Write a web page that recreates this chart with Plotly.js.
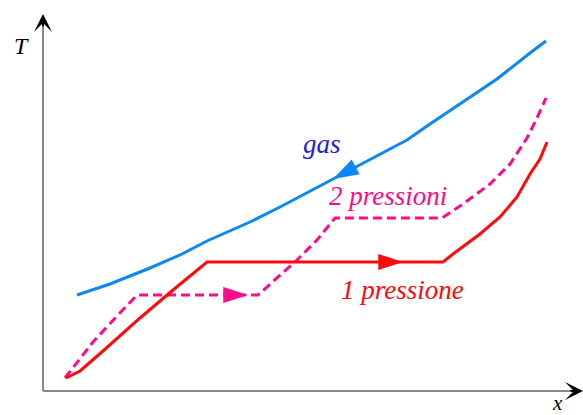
<!DOCTYPE html>
<html>
<head>
<meta charset="utf-8">
<script src="https://cdn.plot.ly/plotly-3.0.1.min.js"></script>
<style>html,body{margin:0;padding:0;background:#fff;}#chart{width:583px;height:415px;}</style>
</head>
<body>
<div id="chart"></div>
<script>
// Schematic values (x, T); origin at the axes corner
var gasX = [34, 67, 107, 137, 164, 207, 237, 290, 327, 364, 387, 420, 454, 487, 503];
var gasT = [96, 107, 123, 136, 150, 169, 184, 212, 231, 251, 267, 289, 312, 338, 350];

var p1X = [23, 37, 60, 97, 130, 150, 164, 400, 410, 437, 457, 474, 487, 497, 504];
var p1T = [13, 20, 40, 73, 101, 118, 129, 129, 137, 157, 174, 194, 217, 232, 249];

var p2X = [22, 30, 50, 74, 94, 215, 227, 254, 274, 292, 399, 420, 447, 467, 484, 494, 503];
var p2T = [13, 23, 49, 75, 96, 96, 107, 131, 151, 173, 173, 187, 207, 227, 253, 273, 293];

// arrowheads: position (tip) and direction angle (degrees clockwise from up)
var arrowGas = {x: [290], t: [212], angle: 242};
var arrowP1 = {x: [360], t: [129], angle: 90};
var arrowP2 = {x: [205], t: [96], angle: 90};

var labels = ['gas', '2 pressioni', '1 pressione'];
var labelX = [279, 345, 359];
var labelT = [247, 195, 101];

var cBlue = '#0a88f5', cRed = '#ff0a0a', cPink = '#ff0a8c';

var traces = [
  {x: gasX, y: gasT, mode: 'lines', line: {color: cBlue, width: 3}, hoverinfo: 'skip'},
  {x: p2X, y: p2T, mode: 'lines', line: {color: cPink, width: 3, dash: '9px,5px'}, hoverinfo: 'skip'},
  {x: p1X, y: p1T, mode: 'lines', line: {color: cRed, width: 3}, hoverinfo: 'skip'},
  {x: arrowGas.x, y: arrowGas.t, mode: 'markers', marker: {symbol: 'arrow', size: 27, angle: arrowGas.angle, color: cBlue, line: {width: 0}}, hoverinfo: 'skip'},
  {x: arrowP1.x, y: arrowP1.t, mode: 'markers', marker: {symbol: 'arrow', size: 26, angle: arrowP1.angle, color: cRed, line: {width: 0}}, hoverinfo: 'skip'},
  {x: arrowP2.x, y: arrowP2.t, mode: 'markers', marker: {symbol: 'arrow', size: 26, angle: arrowP2.angle, color: cPink, line: {width: 0}}, hoverinfo: 'skip'}
];

var fontFam = 'Liberation Serif';
var labelColors = ['#2020dc', cPink, cRed];

var annotations = labels.map(function (t, i) {
  return {x: labelX[i], y: labelT[i], xref: 'x', yref: 'y', text: t, showarrow: false,
          font: {family: fontFam, size: 27, color: labelColors[i], style: 'italic'}, xanchor: 'center', yanchor: 'middle'};
});
// axis arrowheads
annotations.push({x: 0, y: 377, xref: 'x', yref: 'y', ax: 0, ay: 14, axref: 'pixel', ayref: 'pixel', text: '',
  showarrow: true, arrowhead: 3, arrowsize: 1.5, arrowwidth: 2, arrowcolor: '#000'});
annotations.push({x: 540, y: 0, xref: 'x', yref: 'y', ax: -14, ay: 0, axref: 'pixel', ayref: 'pixel', text: '',
  showarrow: true, arrowhead: 3, arrowsize: 1.5, arrowwidth: 2, arrowcolor: '#000'});
// axis titles
annotations.push({x: -22, y: 345, xref: 'x', yref: 'y', text: 'T', showarrow: false,
  font: {family: fontFam, size: 24, color: '#000', style: 'italic'}, xanchor: 'center', yanchor: 'middle'});
annotations.push({x: 514, y: -12, xref: 'x', yref: 'y', text: 'x', showarrow: false,
  font: {family: fontFam, size: 21, color: '#000', style: 'italic'}, xanchor: 'center', yanchor: 'middle'});

var layout = {
  width: 583, height: 415,
  margin: {l: 0, r: 0, t: 0, b: 0},
  paper_bgcolor: '#fff', plot_bgcolor: '#fff',
  showlegend: false,
  xaxis: {range: [-43, 540], visible: false, fixedrange: true},
  yaxis: {range: [-24, 391], visible: false, fixedrange: true},
  shapes: [
    {type: 'line', xref: 'x', yref: 'y', x0: 0, y0: 0, x1: 0, y1: 366, line: {color: '#888', width: 2}, layer: 'below'},
    {type: 'line', xref: 'x', yref: 'y', x0: 0, y0: 0, x1: 530, y1: 0, line: {color: '#888', width: 2}, layer: 'below'}
  ],
  annotations: annotations
};

Plotly.newPlot('chart', traces, layout, {displayModeBar: false, staticPlot: true});
</script>
</body>
</html>
